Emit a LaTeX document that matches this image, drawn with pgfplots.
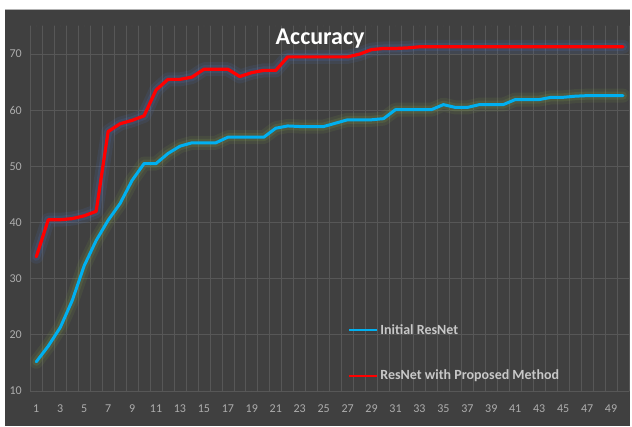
\documentclass[border=0pt]{standalone}
\usepackage{pgfplots}
\usepackage{pgfplotstable}
\pgfplotsset{compat=1.18}
\usepackage{fontspec}
\setmainfont{Carlito}
\definecolor{panel}{HTML}{404040}
\definecolor{gridc}{HTML}{575757}
\definecolor{tickc}{HTML}{ADADAD}
\definecolor{legc}{HTML}{C8C8C8}
\definecolor{redl}{HTML}{FF0000}
\definecolor{bluel}{HTML}{00B0F0}
\definecolor{glowb}{HTML}{4A72C4}
\definecolor{glowg}{HTML}{7FA040}
\pgfplotstableread{
x y
1 15.2
2 18.0
3 21.3
4 26.1
5 32.3
6 36.8
7 40.4
8 43.4
9 47.5
10 50.5
11 50.5
12 52.3
13 53.6
14 54.2
15 54.2
16 54.2
17 55.2
18 55.2
19 55.2
20 55.2
21 56.8
22 57.2
23 57.1
24 57.1
25 57.1
26 57.7
27 58.3
28 58.3
29 58.3
30 58.5
31 60.1
32 60.1
33 60.1
34 60.1
35 61.0
36 60.5
37 60.5
38 61.0
39 61.0
40 61.0
41 61.9
42 61.9
43 61.9
44 62.3
45 62.3
46 62.5
47 62.6
48 62.6
49 62.6
50 62.6
}\bluedata
\pgfplotstableread{
x y
1 33.9
2 40.5
3 40.5
4 40.7
5 41.2
6 42.0
7 56.2
8 57.6
9 58.2
10 59.0
11 63.6
12 65.5
13 65.5
14 65.9
15 67.3
16 67.3
17 67.3
18 66.0
19 66.7
20 67.1
21 67.1
22 69.5
23 69.5
24 69.5
25 69.5
26 69.5
27 69.5
28 70.0
29 70.8
30 71.0
31 71.0
32 71.1
33 71.3
34 71.3
35 71.3
36 71.3
37 71.3
38 71.3
39 71.3
40 71.3
41 71.3
42 71.3
43 71.3
44 71.3
45 71.3
46 71.3
47 71.3
48 71.3
49 71.3
50 71.3
}\reddata
\begin{document}
\begin{tikzpicture}
\fill[white] (-30.3pt,-35pt) rectangle (601.7pt,391pt);
\fill[panel] (-25.3pt,-35pt) rectangle (599.7pt,382pt);
\draw[gray!60,line width=0.4pt] (-25.3pt,382pt) -- (599.7pt,382pt);
\begin{axis}[
  at={(0,0)}, anchor=south west,
  scale only axis, width=598.7pt, height=365pt,
  xmin=0.5, xmax=50.5, ymin=10, ymax=75,
  axis line style={draw=none},
  major tick length=0pt, minor tick length=0pt,
  xtick={1,3,...,49},
  minor xtick={0.5,1.5,...,50.5},
  ytick={10,20,...,70},
  xmajorgrids=false, xminorgrids=true, ymajorgrids=true,
  grid style={color=gridc, line width=0.7pt},
  minor grid style={color=gridc, line width=0.7pt},
  /pgf/number format/assume math mode=true,
  tick label style={font=\fontsize{12}{14}\selectfont, text=tickc},
  xticklabel style={yshift=-10pt},
  yticklabel style={xshift=-5pt},
  legend style={draw=none, fill=none, at={(rel axis cs:0.531,0.188)}, anchor=north west,
    font=\fontsize{14}{16}\selectfont\bfseries, text=legc, row sep=30pt,
    inner sep=0pt, nodes={inner sep=2pt}},
  legend cell align=left,
  legend image code/.code={\draw[#1, line width=2pt] (0pt,0pt) -- (28pt,0pt);},
  line join=round, line cap=round,
]
\addplot[glowg, line width=14pt, opacity=0.12, forget plot] table {\bluedata};
\addplot[glowg, line width=8pt, opacity=0.18, forget plot] table {\bluedata};
\addplot[glowb, line width=14pt, opacity=0.12, forget plot] table {\reddata};
\addplot[glowb, line width=8pt, opacity=0.18, forget plot] table {\reddata};
\addplot[bluel, line width=3pt, mark=none] table {\bluedata};
\addplot[redl, line width=3.2pt, mark=none] table {\reddata};
\legend{Initial ResNet, ResNet with Proposed Method}
\node[anchor=base, font=\fontsize{24}{28}\selectfont\bfseries, text=white] at (axis cs:24.7,71.7) {Accuracy};
\end{axis}
\end{tikzpicture}
\end{document}
